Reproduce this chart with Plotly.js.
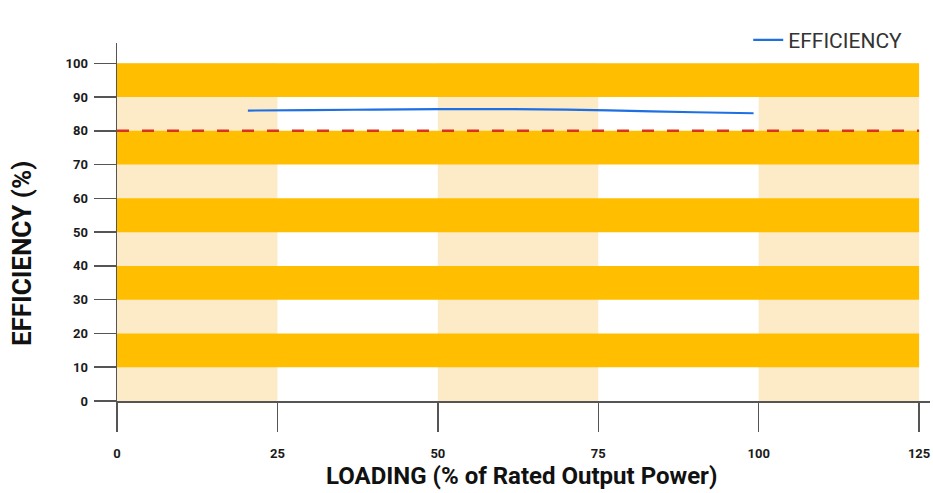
<!DOCTYPE html>
<html>
<head>
<meta charset="utf-8">
<script src="https://cdn.plot.ly/plotly-3.0.1.min.js"></script>
<style>html,body{margin:0;padding:0;background:#fff;}#chart{width:933px;height:493px;}</style>
</head>
<body>
<div id="chart"></div>
<script>
// Efficiency curve
const loading = [20.4, 30, 40, 50, 60, 70, 80, 90, 99.2];
const efficiency = [86.0, 86.1, 86.3, 86.4, 86.4, 86.3, 85.9, 85.5, 85.2];
// Reference level
const refLevel = 80;
// Background bands
const darkBands = [[10, 20], [30, 40], [50, 60], [70, 80], [90, 100]];
const lightColumns = [[0, 25], [50, 75], [100, 125]];
const xTicks = [0, 25, 50, 75, 100, 125];
const yTicks = [0, 10, 20, 30, 40, 50, 60, 70, 80, 90, 100];
const xTitle = 'LOADING (% of Rated Output Power)';
const yTitle = 'EFFICIENCY (%)';

const shapes = [];
lightColumns.forEach(c => shapes.push({type: 'rect', layer: 'below', xref: 'x', yref: 'y',
  x0: c[0], x1: c[1], y0: 0, y1: 100, fillcolor: '#FDEAC6', line: {width: 0}}));
darkBands.forEach(b => shapes.push({type: 'rect', layer: 'below', xref: 'x', yref: 'y',
  x0: 0, x1: 125, y0: b[0], y1: b[1], fillcolor: '#FFBF00', line: {width: 0}}));
shapes.push({type: 'line', layer: 'above', xref: 'x', yref: 'y', x0: 0, x1: 125, y0: refLevel, y1: refLevel,
  line: {color: '#D8321E', width: 2.5, dash: '12px,13px'}});

const traces = [{
  x: loading, y: efficiency, type: 'scatter', mode: 'lines', name: 'EFFICIENCY',
  line: {color: '#1E6FE3', width: 2.2, shape: 'spline'}
}];

const titleFont = {family: 'Roboto, Arial, sans-serif', size: 26, color: '#111', weight: 700};
const tickFont = {family: 'Roboto, Arial, sans-serif', size: 13, color: '#1a1a1a', weight: 700};
const layout = {
  width: 933, height: 493,
  margin: {l: 117, r: 3, t: 43, b: 92},
  paper_bgcolor: '#fff', plot_bgcolor: '#fff',
  showlegend: true,
  legend: {x: 0.972, xanchor: 'right', y: 1.008, yanchor: 'middle', orientation: 'h',
    itemwidth: 30,
    font: {family: 'Roboto, Arial, sans-serif', size: 21, color: '#333'}, bgcolor: 'rgba(0,0,0,0)'},
  xaxis: {range: [0, 126.7], tickvals: xTicks, ticktext: xTicks.map(String), showgrid: false, zeroline: false,
    showline: true, linecolor: '#555', linewidth: 1.5, ticks: 'outside', ticklen: 29, tickwidth: 1.5, tickcolor: '#555',
    ticklabelstandoff: 11, tickfont: tickFont, fixedrange: true},
  yaxis: {range: [0, 106], tickvals: yTicks, ticktext: yTicks.map(String), showgrid: false, zeroline: false,
    showline: true, linecolor: '#555', linewidth: 1.5, ticks: 'outside', ticklen: 22, tickwidth: 1.5, tickcolor: '#555',
    ticklabelstandoff: 3, tickfont: tickFont, fixedrange: true},
  annotations: [
    {text: xTitle, xref: 'paper', yref: 'paper', x: 0.497, y: -0.254, xanchor: 'center', yanchor: 'bottom',
      showarrow: false, font: Object.assign({}, titleFont, {size: 24})},
    {text: yTitle, xref: 'paper', yref: 'paper', x: -0.1169, y: 0.413, xanchor: 'center', yanchor: 'middle',
      textangle: -90, showarrow: false, font: titleFont}
  ],
  shapes: shapes
};
Plotly.newPlot('chart', traces, layout, {displayModeBar: false, staticPlot: true});
</script>
</body>
</html>
